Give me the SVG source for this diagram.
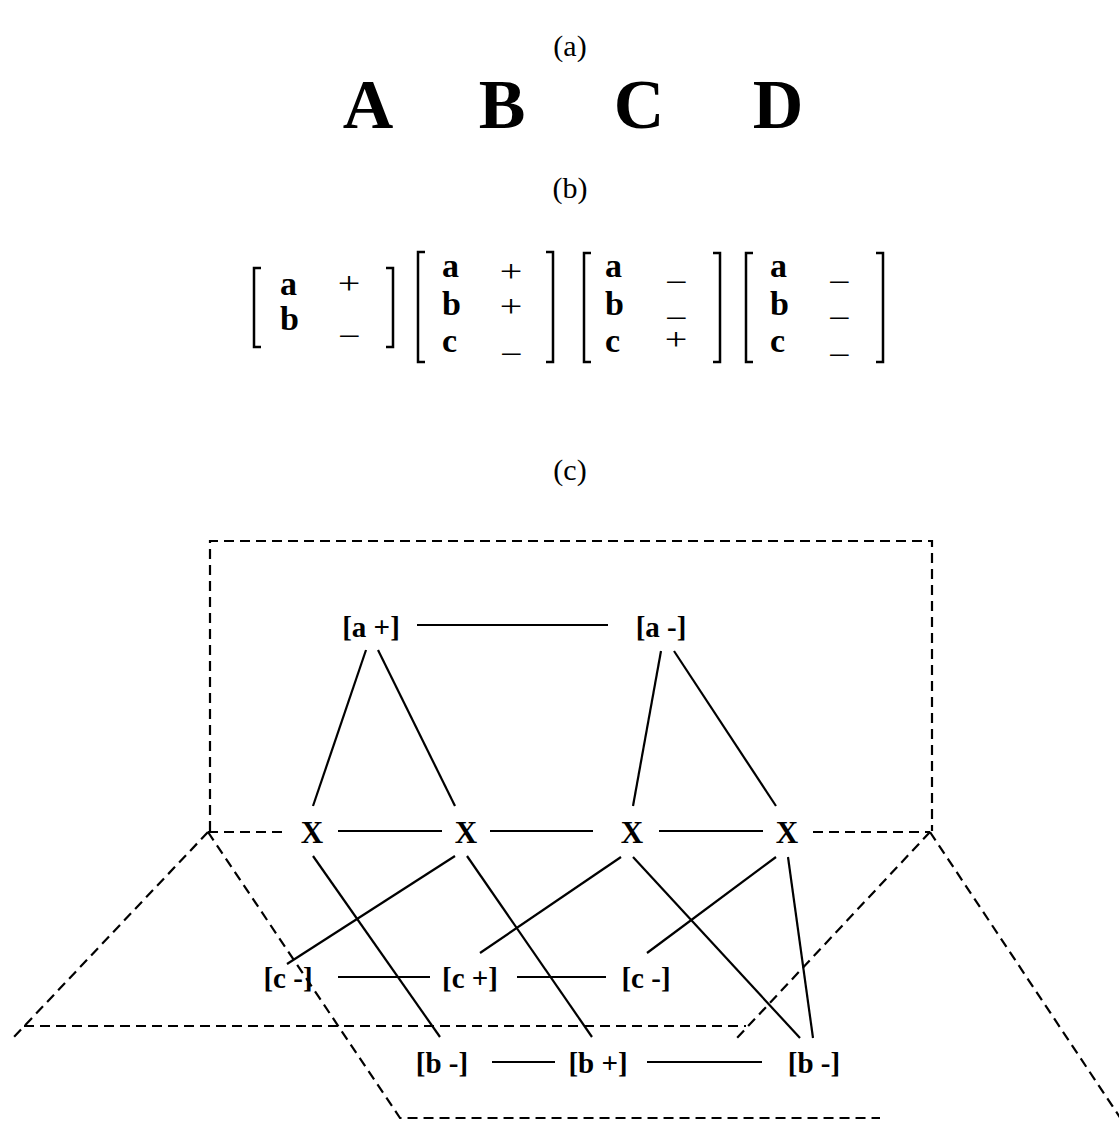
<svg xmlns="http://www.w3.org/2000/svg" width="1119" height="1122" viewBox="0 0 1119 1122">
<style>
.cap{font-family:"Liberation Serif","Times New Roman",serif;font-size:30px;text-anchor:middle;fill:#000}
.big{font-family:"Liberation Serif","Times New Roman",serif;font-size:70px;font-weight:bold;text-anchor:middle;fill:#000}
.mv{font-family:"Liberation Serif","Times New Roman",serif;font-size:34px;font-weight:bold;fill:#000}
.ms{font-family:"Liberation Serif","Times New Roman",serif;font-size:32px;text-anchor:middle;fill:#000}
.br{fill:none;stroke:#000;stroke-width:2.5}
.node{font-family:"Liberation Serif","Times New Roman",serif;font-size:29px;font-weight:bold;text-anchor:middle;fill:#000}
.xn{font-family:"Liberation Serif","Times New Roman",serif;font-size:31px;font-weight:bold;text-anchor:middle;fill:#000}
.edge{stroke:#000;stroke-width:2.2;fill:none}
.dash{stroke:#000;stroke-width:2.2;fill:none;stroke-dasharray:10 6}
</style>
<rect width="1119" height="1122" fill="#fff"/>

<g id="part-a">
<text class="cap" x="570" y="56">(a)</text>
<text class="big" x="368" y="128">A</text>
<text class="big" x="502" y="128">B</text>
<text class="big" x="639" y="128">C</text>
<text class="big" x="778" y="128">D</text>
</g>

<g id="part-b">
<text class="cap" x="570" y="198">(b)</text>
<g id="matrix1">
<path class="br" d="M261,268 H254 V347 H261 M386,268 H393 V347 H386"/>
<text class="mv" x="280" y="295">a</text><text class="ms" transform="translate(349,294) scale(1.25,1)">+</text>
<text class="mv" x="280" y="330">b</text><text class="ms" transform="translate(349,347) scale(1.25,1)">−</text>
</g>
<g id="matrix2">
<path class="br" d="M425,252 H418 V362 H425 M546,252 H553 V362 H546"/>
<text class="mv" x="442" y="277">a</text><text class="ms" transform="translate(511,282) scale(1.25,1)">+</text>
<text class="mv" x="442" y="315">b</text><text class="ms" transform="translate(511,317) scale(1.25,1)">+</text>
<text class="mv" x="442" y="352">c</text><text class="ms" transform="translate(511,365) scale(1.25,1)">−</text>
</g>
<g id="matrix3">
<path class="br" d="M591,253 H584 V362 H591 M713,253 H720 V362 H713"/>
<text class="mv" x="605" y="277">a</text><text class="ms" transform="translate(676,293) scale(1.25,1)">−</text>
<text class="mv" x="605" y="315">b</text><text class="ms" transform="translate(676,329) scale(1.25,1)">−</text>
<text class="mv" x="605" y="352">c</text><text class="ms" transform="translate(676,350) scale(1.25,1)">+</text>
</g>
<g id="matrix4">
<path class="br" d="M753,253 H746 V362 H753 M876,253 H883 V362 H876"/>
<text class="mv" x="770" y="277">a</text><text class="ms" transform="translate(839,293) scale(1.25,1)">−</text>
<text class="mv" x="770" y="315">b</text><text class="ms" transform="translate(839,329) scale(1.25,1)">−</text>
<text class="mv" x="770" y="352">c</text><text class="ms" transform="translate(839,366) scale(1.25,1)">−</text>
</g>
</g>

<text class="cap" x="570" y="480">(c)</text>

<g id="planes">
<path class="dash" d="M210,831 V541 H932 V831"/>
<path class="dash" d="M208,832 H283"/>
<path class="dash" d="M813,832 H930"/>
<path class="dash" d="M208,832 L13,1038"/>
<path class="dash" d="M24,1026 H746"/>
<path class="dash" d="M930,832 L737,1038"/>
<path class="dash" d="M208,832 L400,1118 H880"/>
<path class="dash" d="M930,832 L1125,1125"/>
</g>

<g id="connectors">
<line class="edge" x1="417" y1="625" x2="608" y2="625"/>
<line class="edge" x1="366" y1="650" x2="313" y2="806"/>
<line class="edge" x1="378" y1="650" x2="455" y2="806"/>
<line class="edge" x1="661" y1="651" x2="633" y2="806"/>
<line class="edge" x1="674" y1="651" x2="776" y2="806"/>
<line class="edge" x1="338" y1="831" x2="442" y2="831"/>
<line class="edge" x1="490" y1="831" x2="593" y2="831"/>
<line class="edge" x1="659" y1="831" x2="763" y2="831"/>
<line class="edge" x1="313" y1="856" x2="440" y2="1037"/>
<line class="edge" x1="455" y1="856" x2="287" y2="964"/>
<line class="edge" x1="467" y1="856" x2="592" y2="1037"/>
<line class="edge" x1="621" y1="857" x2="480" y2="953"/>
<line class="edge" x1="633" y1="857" x2="800" y2="1038"/>
<line class="edge" x1="776" y1="857" x2="647" y2="953"/>
<line class="edge" x1="788" y1="857" x2="813" y2="1038"/>
<line class="edge" x1="338" y1="977" x2="430" y2="977"/>
<line class="edge" x1="517" y1="977" x2="606" y2="977"/>
<line class="edge" x1="492" y1="1062" x2="555" y2="1062"/>
<line class="edge" x1="647" y1="1062" x2="762" y2="1062"/>
</g>

<g id="node-a-plus"><text class="node" x="371" y="637">[a +]</text></g>
<g id="node-a-minus"><text class="node" x="661" y="637">[a -]</text></g>
<g id="node-x1"><text class="xn" x="312" y="843">X</text></g>
<g id="node-x2"><text class="xn" x="466" y="843">X</text></g>
<g id="node-x3"><text class="xn" x="632" y="843">X</text></g>
<g id="node-x4"><text class="xn" x="787" y="843">X</text></g>
<g id="node-c-minus-1"><text class="node" x="288" y="988">[c -]</text></g>
<g id="node-c-plus"><text class="node" x="470" y="988">[c +]</text></g>
<g id="node-c-minus-2"><text class="node" x="646" y="988">[c -]</text></g>
<g id="node-b-minus-1"><text class="node" x="442" y="1073">[b -]</text></g>
<g id="node-b-plus"><text class="node" x="598" y="1073">[b +]</text></g>
<g id="node-b-minus-2"><text class="node" x="814" y="1073">[b -]</text></g>
</svg>
